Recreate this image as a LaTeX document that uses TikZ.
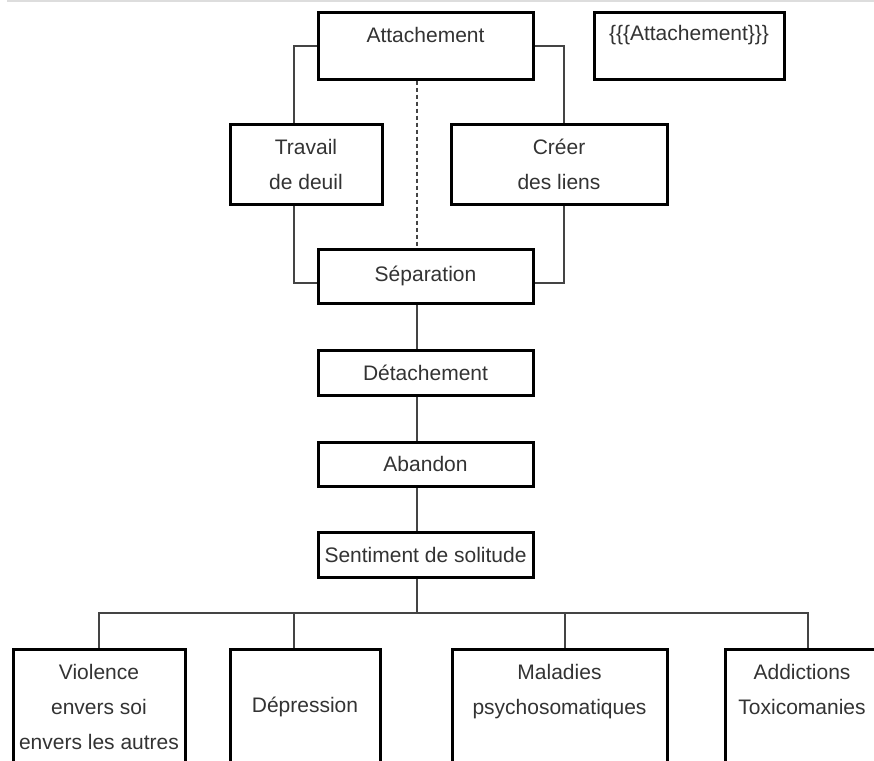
\documentclass[tikz,border=0pt]{standalone}
\usepackage{fontspec}
\setmainfont{Liberation Sans}
\definecolor{txt}{HTML}{333333}
\definecolor{conncol}{HTML}{444444}
\definecolor{topline}{HTML}{DDDDDD}
\tikzset{
  box/.style={draw=black, line width=3pt, fill=white, inner sep=0pt, align=center,
              text=txt, font=\fontsize{21pt}{35pt}\selectfont},
  lbl/.style={text=txt, inner sep=0pt, font=\fontsize{21pt}{35pt}\selectfont},
  conn/.style={draw=conncol, line width=1.3pt},
  dconn/.style={conn, dash pattern=on 4pt off 3pt}
}
\begin{document}
\begin{tikzpicture}[x=1pt,y=-1pt]
\useasboundingbox (0,0) rectangle (874,760);
\clip (0,0) rectangle (874,760);
\fill[white] (0,0) rectangle (874,760);
\draw[topline, line width=1.5pt] (7,0.8) -- (874,0.8);

% boxes
\node[box, minimum width=215pt, minimum height=66pt] (attach) at (425.5,46) {};
\node[lbl] (attachT) at ([yshift=11pt]attach.center) {Attachement};
\node[box, minimum width=190pt, minimum height=66pt] (tmpl) at (689,46) {};
\node[lbl] (tmplT) at ([yshift=11pt]tmpl.center) {\{\{\{Attachement\}\}\}};
\node[box, minimum width=152pt, minimum height=80pt] (trav) at (306,164) {Travail\\de deuil};
\node[box, minimum width=216pt, minimum height=80pt] (creer) at (559,164) {Créer\\des liens};
\node[box, minimum width=215pt, minimum height=54pt] (sep) at (425.5,276) {Séparation};
\node[box, minimum width=215pt, minimum height=45pt] (detach) at (425.5,372.5) {Détachement};
\node[box, minimum width=215pt, minimum height=44pt] (aband) at (425.5,464) {Abandon};
\node[box, minimum width=215pt, minimum height=45pt] (senti) at (425.5,554.5) {Sentiment de solitude};
\node[box, minimum width=172pt, minimum height=116pt] (viol) at (99,707) {Violence\\envers soi\\envers les autres};
\node[box, minimum width=150pt, minimum height=116pt] (depr) at (305,707) {Dépression};
\node[box, minimum width=215pt, minimum height=116pt] (mal) at (559.5,707) {Maladies\\psychosomatiques\\\mbox{}};
\node[box, minimum width=154pt, minimum height=116pt] (addi) at (802,707) {Addictions\\Toxicomanies\\\mbox{}};

% connector guide coordinates
\coordinate (lx) at (294,0);
\coordinate (rx) at (564,0);
\coordinate (mx) at (417,0);
\coordinate (t1) at (99,613);
\coordinate (t2) at (294,613);
\coordinate (t3) at (565,613);
\coordinate (t4) at (808,613);

\draw[conn] (attach.west) -| (lx |- trav.north);
\draw[conn] (lx |- trav.south) |- ([yshift=-7pt]sep.west);
\draw[conn] (attach.east) -| (rx |- creer.north);
\draw[conn] (rx |- creer.south) |- ([yshift=-7pt]sep.east);
\draw[dconn] (mx |- attach.south) -- (mx |- sep.north);
\draw[conn] (mx |- sep.south) -- (mx |- detach.north);
\draw[conn] (mx |- detach.south) -- (mx |- aband.north);
\draw[conn] (mx |- aband.south) -- (mx |- senti.north);
\draw[conn] (mx |- senti.south) -- (mx |- t1);
\draw[conn] (t1 |- viol.north) -- (t1) -- (t4) -- (t4 |- addi.north);
\draw[conn] (t2) -- (t2 |- depr.north);
\draw[conn] (t3) -- (t3 |- mal.north);
\end{tikzpicture}
\end{document}
